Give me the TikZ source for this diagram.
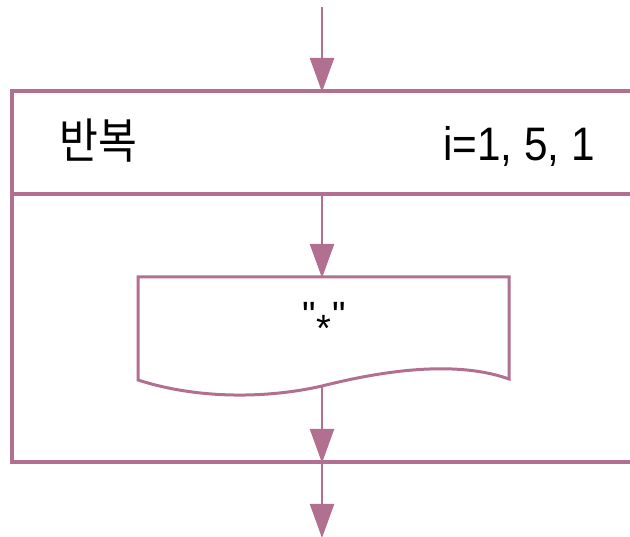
\documentclass[tikz,border=0pt]{standalone}
\usepackage{fontspec}
\setmainfont{Liberation Sans}
\newfontfamily\krfont{Noto Sans CJK KR}
\usetikzlibrary{arrows.meta}
\definecolor{mauve}{RGB}{178,112,145}
\tikzset{
  flow/.style={draw=mauve, line width=2.2pt, -{Triangle[length=34pt,width=24pt]}, shorten >=-1pt},
  frameline/.style={draw=mauve, line width=3.8pt},
  docline/.style={draw=mauve, line width=3pt, line join=miter},
}
\begin{document}
\begin{tikzpicture}[x=1pt,y=-1pt]
\useasboundingbox (0,0) rectangle (630,537);
\clip (0,0) rectangle (630,537);
% coordinates
\coordinate (start) at (322,7);
\coordinate (ftop) at (322,91);
\coordinate (fdiv) at (322,194);
\coordinate (fbot) at (322,462);
\coordinate (end) at (322,537);
\coordinate (docbot) at (322,386);
% loop frame (open to the right)
\draw[frameline] (640,91) -- (12,91) -- (12,462) -- (640,462);
\draw[frameline] (12,194) -- (640,194);
% labels
\node[anchor=west, inner sep=0pt, font=\krfont\fontsize{48}{52}\selectfont, xscale=0.88] (rep) at (59,141) {반복};
\node[anchor=base west, inner sep=0pt, font=\fontsize{47}{50}\selectfont, xscale=0.9] (rng) at (443,161) {i=1, 5, 1};
% document shape
\node[minimum width=371pt, minimum height=103pt, inner sep=0pt] (doc) at (323.5,328.5) {};
\coordinate (doctop) at (322,277);
\draw[docline] (138,380) -- (138,277) -- (509,277) -- (509,379)
  .. controls (450,358) and (370,374) .. (322,386)
  .. controls (270,398) and (200,400) .. (138,380) -- cycle;
\node[inner sep=0pt, font=\fontsize{38}{40}\selectfont] (txt) at (324,322) {\textquotedbl\kern1pt\raisebox{-0.33em}{*}\kern1pt\textquotedbl};
% connectors
\draw[flow] (start) -- (ftop);
\draw[flow] (fdiv) -- (doctop);
\draw[flow] (docbot) -- (fbot);
\draw[flow] (fbot) -- (end);
\end{tikzpicture}
\end{document}
